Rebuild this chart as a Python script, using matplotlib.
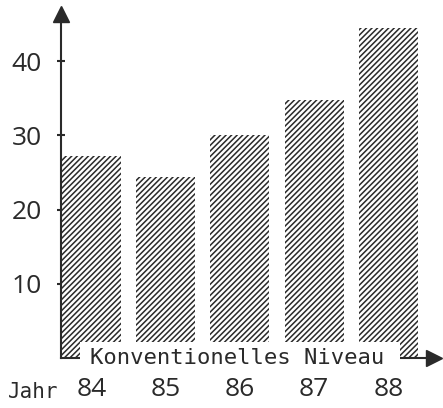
import matplotlib
matplotlib.use("Agg")
import matplotlib.pyplot as plt
from matplotlib.patches import Rectangle

# Werte
jahre = ["84", "85", "86", "87", "88"]
werte = [27.2, 24.4, 30.0, 34.7, 44.4]
y_ticks = [10, 20, 30, 40]

ink = "#2a2a2a"
plt.rcParams['hatch.linewidth'] = 1.1

fig = plt.figure(figsize=(4.43, 4.08), dpi=100)
W, H = 443, 408
ax = fig.add_axes([61 / W, 50 / H, (443 - 61) / W, (396 - 50) / H])

x = list(range(len(jahre)))
ax.bar(x, werte, width=0.795, color="white", edgecolor=ink,
       hatch="//////", linewidth=0, zorder=2)

ax.set_xlim(-0.411, 4.737)
ax.set_ylim(0, 46.6)

for s in ["top", "right", "bottom"]:
    ax.spines[s].set_visible(False)
ax.spines["left"].set_color(ink)
ax.spines["left"].set_linewidth(1.5)
ax.spines["left"].set_zorder(3)

# Pfeile der Achsen
ax.plot([-0.411], [46.3], marker="^", markersize=11, color=ink,
        clip_on=False, zorder=4)
ax.plot([-0.411, 4.60], [0, 0], color=ink, lw=1.5, clip_on=False, zorder=3)
ax.plot([4.62], [0], marker=">", markersize=11, color=ink,
        clip_on=False, zorder=4)

# weisses Feld mit Beschriftung
ax.add_patch(Rectangle((-0.155, -2.6), 4.313, 4.75, facecolor="white",
                       edgecolor="none", clip_on=False, zorder=5))
ax.text(1.96, -0.05, "Konventionelles Niveau", family="DejaVu Sans Mono",
        fontsize=16, color=ink, ha="center", va="center", zorder=6)

ax.set_yticks(y_ticks)
ax.set_yticklabels([str(v) for v in y_ticks], family="Open Sans",
                   fontsize=19, color=ink)
ax.tick_params(axis="y", direction="inout", length=6, width=1.5,
               color=ink, pad=11)

ax.set_xticks(x)
ax.set_xticklabels(jahre, family="Open Sans", fontsize=19, color=ink)
ax.tick_params(axis="x", length=0, pad=14)

fig.text(8 / W, 1 - 392 / H, "Jahr", family="DejaVu Sans Mono",
         fontsize=15, color=ink, ha="left", va="center")

fig.savefig("out.png", dpi=100)
